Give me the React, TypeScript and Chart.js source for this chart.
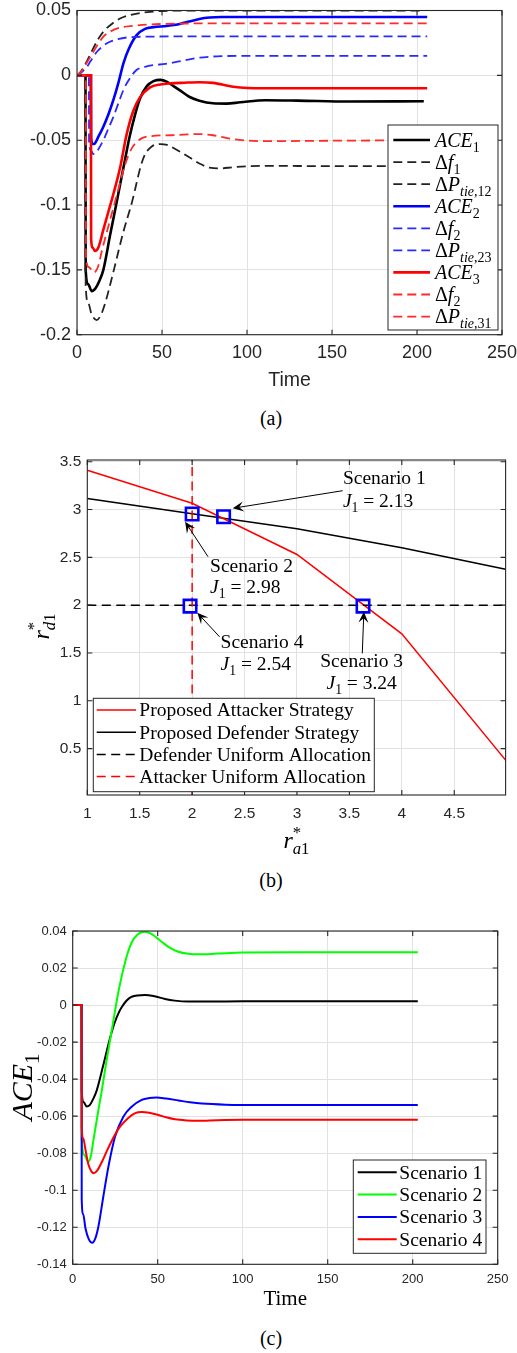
import { useEffect, useRef } from "react";
import { Chart, registerables } from "chart.js";

Chart.register(...registerables);

type Pt = [number, number];

const SERIF = '"Liberation Serif", "Times New Roman", serif';
const SANS = '"Liberation Sans", Arial, Helvetica, sans-serif';
const AXIS_INK = "#262626";
const GRID = "#e2e2e2";
const PAGE_W = 517;

// ---------- (a) ACE and its components for the three areas ----------
const ACE1: Pt[] = [[0, 0], [5, 0], [5.1, -0.15], [6.5, -0.161], [8.7, -0.1665], [11, -0.164], [13, -0.159], [15.5, -0.15], [19.5, -0.123], [23, -0.1], [27.5, -0.07], [31, -0.047], [34, -0.031], [37, -0.018], [41, -0.0085], [45, -0.0045], [49, -0.0035], [53, -0.005], [57, -0.0085], [61, -0.012], [66, -0.0165], [72, -0.0195], [80, -0.0215], [88, -0.0218], [96, -0.0208], [111, -0.0192], [130, -0.0195], [160, -0.0202], [204, -0.02]];
const DF1: Pt[] = [[0, 0], [2, 0.0025], [4, 0.0065], [5.7, 0.0105], [9.6, 0.021], [12.5, 0.028], [15.5, 0.0336], [21.4, 0.0406], [26, 0.0442], [31.2, 0.0465], [37, 0.048], [43, 0.049], [55, 0.0498], [70, 0.05], [203, 0.05]];
const DPTIE12: Pt[] = [[0, 0], [5, 0], [5.1, -0.162], [6.7, -0.176], [8.5, -0.184], [11.6, -0.1887], [14, -0.185], [16.5, -0.176], [19, -0.164], [21.7, -0.15], [27, -0.122], [32.5, -0.097], [37.5, -0.07], [40, -0.061], [44, -0.0548], [49, -0.053], [53, -0.0537], [57, -0.0562], [62, -0.06], [67, -0.064], [72, -0.068], [78, -0.0712], [84, -0.0718], [92, -0.0708], [110, -0.0698], [150, -0.07], [203, -0.07]];
const ACE2: Pt[] = [[0, 0], [8.2, 0], [8.3, -0.048], [9.2, -0.053], [10.5, -0.0525], [12.5, -0.0475], [15.5, -0.0396], [18.5, -0.03], [21.4, -0.019], [24.5, -0.005], [27.3, 0.0093], [30.5, 0.0205], [35.1, 0.031], [40, 0.0358], [45, 0.0372], [52.7, 0.038], [57, 0.0388], [61, 0.0398], [66, 0.0415], [72, 0.0435], [78, 0.0446], [85, 0.045], [100, 0.045], [206, 0.045]];
const DF2: Pt[] = [[0, 0], [7, 0], [7.1, -0.052], [8.3, -0.058], [9.6, -0.0607], [11, -0.06], [13, -0.056], [15.5, -0.05], [18.5, -0.041], [21.4, -0.032], [24.5, -0.021], [27.3, -0.0113], [30, -0.0045], [35, 0.0041], [40, 0.0066], [45, 0.0079], [52, 0.0088], [58, 0.0102], [64, 0.0118], [72, 0.0136], [85, 0.0148], [100, 0.015], [206, 0.015]];
const DPTIE23: Pt[] = [[0, 0], [2, 0.0015], [4, 0.004], [5.7, 0.0062], [8, 0.011], [11.6, 0.018], [15.5, 0.0228], [19.4, 0.0259], [24, 0.0279], [29.2, 0.0292], [40, 0.0298], [60, 0.03], [206, 0.03]];
const ACE3: Pt[] = [[0, 0], [8.2, 0], [8.3, -0.126], [9.3, -0.133], [10.6, -0.1355], [12.5, -0.133], [15.5, -0.119], [18.5, -0.105], [21.4, -0.0915], [25.3, -0.0715], [29.2, -0.0455], [33.1, -0.0275], [37, -0.017], [43, -0.0093], [49, -0.007], [55, -0.0062], [63, -0.0057], [72, -0.0053], [80, -0.0058], [92, -0.0088], [110, -0.01], [206, -0.01]];
const DF3: Pt[] = [[0, 0], [2, 0.0022], [4, 0.0058], [5.7, 0.0095], [10, 0.019], [15.5, 0.0298], [19.4, 0.0336], [25.3, 0.0368], [33, 0.0382], [49, 0.0396], [70, 0.04], [206, 0.04]];
const DPTIE31: Pt[] = [[0, 0], [5.2, 0], [5.3, -0.14], [7, -0.148], [10, -0.152], [12.5, -0.147], [14.5, -0.136], [17.5, -0.121], [20.4, -0.107], [24.5, -0.087], [28, -0.07], [32.2, -0.0563], [38, -0.0486], [44, -0.0468], [55, -0.0462], [65, -0.0456], [72, -0.0453], [80, -0.0462], [92, -0.0492], [110, -0.0508], [140, -0.0505], [206, -0.05]];

const A_X_TICKS = [0, 50, 100, 150, 200, 250];
const A_Y_TICKS = [-0.2, -0.15, -0.1, -0.05, 0, 0.05];

// ---------- (b) attacker / defender allocation ----------
const RA1 = [1, 2, 3, 4, 4.99];
const ATTACKER_RD = [3.41, 3.065, 2.53, 1.7, 0.38];
const DEFENDER_RD = [3.115, 2.955, 2.8, 2.6, 2.375];
const UNIFORM_RD = 2;
const UNIFORM_RA = 2;
const SCEN_NAMES = ["Scenario 1", "Scenario 2", "Scenario 3", "Scenario 4"];
const SCEN_RA = [2.3, 2.0, 3.63, 1.98];
const SCEN_RD = [2.925, 2.953, 1.99, 1.99];
const SCEN_J = ["2.13", "2.98", "3.24", "2.54"];
const B_X_TICKS = [1, 1.5, 2, 2.5, 3, 3.5, 4, 4.5];
const B_Y_TICKS = [0.5, 1, 1.5, 2, 2.5, 3, 3.5];

// ---------- (c) ACE1 under the four scenarios ----------
const SC1: Pt[] = [[0, 0], [5.2, 0], [5.3, -0.046], [6.5, -0.0525], [8.2, -0.0548], [10, -0.054], [12, -0.0508], [14.1, -0.0462], [18, -0.0324], [21.9, -0.018], [24.9, -0.009], [28.8, -0.0012], [34.7, 0.0045], [42.5, 0.0055], [48, 0.0048], [54.3, 0.0033], [60, 0.0024], [68, 0.0019], [80, 0.0019], [100, 0.002], [203, 0.002]];
const SC2: Pt[] = [[0, 0], [5.2, 0], [5.3, -0.072], [6.8, -0.081], [9.2, -0.0846], [10.8, -0.081], [12.1, -0.0735], [15.1, -0.0567], [17, -0.0468], [20, -0.0295], [23.5, -0.0108], [26.9, 0.0072], [31.4, 0.0252], [34.7, 0.0338], [38, 0.038], [42.1, 0.0396], [46, 0.0386], [52.3, 0.0342], [57, 0.031], [62.1, 0.0288], [68, 0.0277], [74, 0.0274], [85, 0.0278], [100, 0.0284], [130, 0.0285], [203, 0.0285]];
const SC3: Pt[] = [[0, 0], [5.2, 0], [5.3, -0.105], [6.2, -0.113], [7.5, -0.1205], [9.5, -0.1265], [11.5, -0.1284], [13.3, -0.126], [15.1, -0.1197], [18, -0.1035], [21, -0.0873], [24.9, -0.0711], [29.8, -0.0603], [34.7, -0.0549], [40.6, -0.0512], [45, -0.0502], [49.4, -0.0499], [55, -0.0505], [62.1, -0.0515], [69, -0.0525], [76, -0.0532], [90, -0.0538], [110, -0.054], [203, -0.054]];
const SC4: Pt[] = [[0, 0], [5.2, 0], [5.3, -0.066], [6.2, -0.072], [7.5, -0.078], [9.2, -0.086], [11, -0.0898], [12.4, -0.0908], [14.5, -0.0893], [17, -0.085], [21, -0.077], [26.8, -0.067], [32.7, -0.061], [36.5, -0.0585], [40.6, -0.0578], [45, -0.0582], [50.4, -0.0594], [55, -0.0606], [60.2, -0.0617], [67, -0.0623], [74, -0.0625], [85, -0.0622], [100, -0.062], [203, -0.062]];
const C_X_TICKS = [0, 50, 100, 150, 200, 250];
const C_Y_TICKS = [-0.14, -0.12, -0.1, -0.08, -0.06, -0.04, -0.02, 0, 0.02, 0.04];

// ---------- text helpers ----------
type Seg = { t: string; it?: boolean; pos?: "sub" | "sup"; stack?: boolean };

function fontOf(s: Seg, size: number) {
  const fs = s.pos ? size * 0.7 : size;
  return `${s.it ? "italic " : ""}${fs}px ${SERIF}`;
}

function drawRich(ctx: CanvasRenderingContext2D, segs: Seg[], x: number, yMid: number, size: number, align: "left" | "center") {
  const widths = segs.map((s) => {
    ctx.font = fontOf(s, size);
    return ctx.measureText(s.t).width;
  });
  const starts: number[] = [];
  let cursor = 0;
  let prevStart = 0;
  segs.forEach((s, i) => {
    const start = s.stack ? prevStart : cursor;
    starts.push(start);
    prevStart = start;
    cursor = Math.max(cursor, start + widths[i]);
  });
  const x0 = align === "center" ? x - cursor / 2 : x;
  const base = yMid + size * 0.33;
  ctx.textAlign = "left";
  ctx.textBaseline = "alphabetic";
  segs.forEach((s, i) => {
    ctx.font = fontOf(s, size);
    const dy = s.pos === "sub" ? size * 0.25 : s.pos === "sup" ? -size * 0.42 : 0;
    ctx.fillText(s.t, x0 + starts[i], base + dy);
  });
}

type Area = { left: number; right: number; top: number; bottom: number };
type AxisSpec = { min: number; max: number; ticks: number[] };

const fmt = (v: number) => String(+Number(v).toFixed(4));

function axesOptions(area: Area, height: number, x: AxisSpec, y: AxisSpec, fontSize: number, xPad: number): any {
  const zeroPad = (s: any) => {
    s.paddingLeft = 0;
    s.paddingRight = 0;
    s.paddingTop = 0;
    s.paddingBottom = 0;
  };
  const tickFont = { family: SANS, size: fontSize };
  return {
    responsive: false,
    animation: false,
    events: [],
    layout: { padding: { left: 0, top: area.top, right: PAGE_W - area.right, bottom: 0 } },
    plugins: { legend: { display: false }, tooltip: { enabled: false }, title: { display: false } },
    scales: {
      x: {
        type: "linear",
        position: "bottom",
        min: x.min,
        max: x.max,
        afterBuildTicks: (s: any) => {
          s.ticks = x.ticks.map((v) => ({ value: v }));
        },
        afterFit: (s: any) => {
          s.height = height - area.bottom;
          zeroPad(s);
        },
        grid: { color: GRID, drawTicks: false, lineWidth: 1 },
        border: { display: false },
        ticks: { color: AXIS_INK, font: tickFont, padding: xPad, maxRotation: 0, minRotation: 0, autoSkip: false, callback: (v: any) => fmt(v) },
      },
      y: {
        type: "linear",
        position: "left",
        min: y.min,
        max: y.max,
        afterBuildTicks: (s: any) => {
          s.ticks = y.ticks.map((v) => ({ value: v }));
        },
        afterFit: (s: any) => {
          s.width = area.left;
          zeroPad(s);
        },
        grid: { color: GRID, drawTicks: false, lineWidth: 1 },
        border: { display: false },
        ticks: { color: AXIS_INK, font: tickFont, padding: 6, autoSkip: false, callback: (v: any) => fmt(v) },
      },
    },
  };
}

// box around the axes with inward tick marks on all four sides
function drawFrame(chart: any, xTicks: number[], yTicks: number[], len: number) {
  const { ctx, chartArea: a, scales } = chart;
  ctx.save();
  ctx.strokeStyle = AXIS_INK;
  ctx.lineWidth = 1.1;
  ctx.beginPath();
  xTicks.forEach((v) => {
    const px = scales.x.getPixelForValue(v);
    ctx.moveTo(px, a.bottom);
    ctx.lineTo(px, a.bottom - len);
    ctx.moveTo(px, a.top);
    ctx.lineTo(px, a.top + len);
  });
  yTicks.forEach((v) => {
    const py = scales.y.getPixelForValue(v);
    ctx.moveTo(a.left, py);
    ctx.lineTo(a.left + len, py);
    ctx.moveTo(a.right, py);
    ctx.lineTo(a.right - len, py);
  });
  ctx.stroke();
  ctx.strokeRect(a.left, a.top, a.right - a.left, a.bottom - a.top);
  ctx.restore();
}

type LegendRow = { color: string; dash: number[]; width: number; label: Seg[] };
type LegendLayout = { x: number; y: number; w: number; h: number; firstRow: number; rowH: number; line0: number; line1: number; text: number; size: number };

function drawLegend(ctx: CanvasRenderingContext2D, rows: LegendRow[], L: LegendLayout) {
  ctx.save();
  ctx.fillStyle = "#ffffff";
  ctx.fillRect(L.x, L.y, L.w, L.h);
  ctx.strokeStyle = AXIS_INK;
  ctx.lineWidth = 1;
  ctx.strokeRect(L.x, L.y, L.w, L.h);
  rows.forEach((r, i) => {
    const y = L.y + L.firstRow + i * L.rowH;
    ctx.setLineDash(r.dash);
    ctx.strokeStyle = r.color;
    ctx.lineWidth = r.width;
    ctx.beginPath();
    ctx.moveTo(L.x + L.line0, y);
    ctx.lineTo(L.x + L.line1, y);
    ctx.stroke();
    ctx.setLineDash([]);
    ctx.fillStyle = "#000000";
    drawRich(ctx, r.label, L.x + L.text, y, L.size, "left");
  });
  ctx.restore();
}

const toXY = (pts: Pt[]) => pts.map(([x, y]) => ({ x, y }));

function curve(pts: Pt[], color: string, width: number, dash: number[], order: number) {
  return {
    data: toXY(pts),
    borderColor: color,
    borderWidth: width,
    borderDash: dash,
    pointRadius: 0,
    fill: false,
    cubicInterpolationMode: "monotone",
    order,
  };
}

const ace = (n: string): Seg[] => [{ t: "ACE", it: true }, { t: n, pos: "sub" }];
const df = (n: string): Seg[] => [{ t: "Δ" }, { t: "f", it: true }, { t: n, pos: "sub" }];
const dptie = (n: string): Seg[] => [{ t: "Δ" }, { t: "P", it: true }, { t: "tie", it: true, pos: "sub" }, { t: "," + n, pos: "sub" }];

// ---------- (a) ----------
function configA(): any {
  const H = 400;
  const area = { left: 77, right: 502, top: 10.5, bottom: 334.7 };
  const DASH = [9, 5];
  const series = [
    { pts: ACE1, color: "#000000", dash: [] as number[], w: 2.6, label: ace("1") },
    { pts: DF1, color: "#222222", dash: DASH, w: 1.8, label: df("1") },
    { pts: DPTIE12, color: "#222222", dash: DASH, w: 1.8, label: dptie("12") },
    { pts: ACE2, color: "#0000ff", dash: [] as number[], w: 2.6, label: ace("2") },
    { pts: DF2, color: "#2a2aff", dash: DASH, w: 1.8, label: df("2") },
    { pts: DPTIE23, color: "#2a2aff", dash: DASH, w: 1.8, label: dptie("23") },
    { pts: ACE3, color: "#ff0000", dash: [] as number[], w: 2.6, label: ace("3") },
    { pts: DF3, color: "#ff2a2a", dash: DASH, w: 1.8, label: df("2") },
    { pts: DPTIE31, color: "#ff2a2a", dash: DASH, w: 1.8, label: dptie("31") },
  ];
  const n = series.length;
  return {
    type: "line",
    data: { datasets: series.map((s, i) => curve(s.pts, s.color, s.w, s.dash, n - i)) },
    options: axesOptions(area, H, { min: 0, max: 250, ticks: A_X_TICKS }, { min: -0.2, max: 0.05, ticks: A_Y_TICKS }, 18, 8),
    plugins: [
      {
        id: "decorA",
        afterDatasetsDraw(chart: any) {
          const { ctx, chartArea: a } = chart;
          drawFrame(chart, A_X_TICKS, A_Y_TICKS, 5);
          const w = 110;
          const h = 205;
          drawLegend(
            ctx,
            series.map((s) => ({ color: s.color, dash: s.dash, width: s.w === 2.6 ? 2.6 : 1.8, label: s.label })),
            { x: a.right - 4 - w, y: a.bottom - 4.7 - h, w, h, firstRow: 15, rowH: 22.07, line0: 5.3, line1: 42, text: 47, size: 20 },
          );
          ctx.save();
          ctx.fillStyle = AXIS_INK;
          ctx.font = `19.5px ${SANS}`;
          ctx.textAlign = "center";
          ctx.textBaseline = "middle";
          ctx.fillText("Time", (a.left + a.right) / 2, a.bottom + 45.5);
          ctx.restore();
        },
      },
    ],
  };
}

// ---------- (b) ----------
const CALLOUTS = [
  { head: [2.387, 3.013], tail: [3.436, 3.197], tx: 3.438, ty: [3.33, 3.092], align: "left" },
  { head: [1.933, 2.873], tail: [2.152, 2.506], tx: 2.171, ty: [2.409, 2.192], align: "left" },
  { head: [3.638, 1.931], tail: [3.623, 1.496], tx: 3.617, ty: [1.418, 1.188], align: "center" },
  { head: [2.049, 1.92], tail: [2.262, 1.669], tx: 2.271, ty: [1.617, 1.391], align: "left" },
];

function drawArrow(ctx: CanvasRenderingContext2D, x0: number, y0: number, x1: number, y1: number) {
  const ang = Math.atan2(y1 - y0, x1 - x0);
  const c = Math.cos(ang);
  const s = Math.sin(ang);
  const P = (u: number, v: number): [number, number] => [x1 + u * c - v * s, y1 + u * s + v * c];
  ctx.beginPath();
  ctx.moveTo(x0, y0);
  const nb = P(-6, 0);
  ctx.lineTo(nb[0], nb[1]);
  ctx.stroke();
  ctx.beginPath();
  const p1 = P(-11, 5);
  const p2 = P(-6.5, 0);
  const p3 = P(-11, -5);
  ctx.moveTo(x1, y1);
  ctx.lineTo(p1[0], p1[1]);
  ctx.lineTo(p2[0], p2[1]);
  ctx.lineTo(p3[0], p3[1]);
  ctx.closePath();
  ctx.fill();
}

function configB(): any {
  const H = 425;
  const area = { left: 87.3, right: 512.2, top: 20, bottom: 355 };
  const YMIN = 0.015;
  const YMAX = 3.518;
  const DASH = [9, 5.5];
  const line = (xs: number[], ys: number[], color: string, dash: number[], order: number) => ({
    data: xs.map((x, i) => ({ x, y: ys[i] })),
    borderColor: color,
    borderWidth: 1.5,
    borderDash: dash,
    pointRadius: 0,
    fill: false,
    tension: 0,
    order,
  });
  const datasets = [
    line(RA1, ATTACKER_RD, "#ff0000", [], 4),
    line(RA1, DEFENDER_RD, "#000000", [], 5),
    line([1, 4.99], [UNIFORM_RD, UNIFORM_RD], "#000000", DASH, 3),
    line([UNIFORM_RA, UNIFORM_RA], [YMIN, YMAX], "#ff0000", DASH, 2),
    {
      data: SCEN_RA.map((x, i) => ({ x, y: SCEN_RD[i] })),
      showLine: false,
      pointStyle: "rect",
      pointRadius: 8.8,
      pointBorderColor: "#0000ff",
      pointBorderWidth: 2.6,
      pointBackgroundColor: "rgba(0,0,0,0)",
      order: 0,
    },
  ];
  const rows: LegendRow[] = [
    { color: "#ff0000", dash: [], width: 1.5, label: [{ t: "Proposed Attacker Strategy" }] },
    { color: "#000000", dash: [], width: 1.5, label: [{ t: "Proposed Defender Strategy" }] },
    { color: "#000000", dash: DASH, width: 1.5, label: [{ t: "Defender Uniform Allocation" }] },
    { color: "#ff0000", dash: DASH, width: 1.5, label: [{ t: "Attacker Uniform Allocation" }] },
  ];
  return {
    type: "line",
    data: { datasets },
    options: axesOptions(area, H, { min: 1, max: 4.99, ticks: B_X_TICKS }, { min: YMIN, max: YMAX, ticks: B_Y_TICKS }, 15.5, 9),
    plugins: [
      {
        id: "decorB",
        afterDatasetsDraw(chart: any) {
          const { ctx, chartArea: a, scales } = chart;
          drawFrame(chart, B_X_TICKS, B_Y_TICKS, 5);
          const X = (v: number) => scales.x.getPixelForValue(v);
          const Y = (v: number) => scales.y.getPixelForValue(v);
          ctx.save();
          ctx.strokeStyle = "#000000";
          ctx.fillStyle = "#000000";
          ctx.lineWidth = 1;
          CALLOUTS.forEach((c, i) => {
            drawArrow(ctx, X(c.tail[0]), Y(c.tail[1]), X(c.head[0]), Y(c.head[1]));
            const al = c.align as "left" | "center";
            drawRich(ctx, [{ t: SCEN_NAMES[i] }], X(c.tx), Y(c.ty[0]), 19.5, al);
            drawRich(ctx, [{ t: "J", it: true }, { t: "1", pos: "sub" }, { t: " = " + SCEN_J[i] }], X(c.tx), Y(c.ty[1]), 19.5, al);
          });
          ctx.restore();
          drawLegend(ctx, rows, { x: a.left + 6, y: a.bottom - 3.3 - 93.4, w: 281, h: 93.4, firstRow: 11.7, rowH: 22.2, line0: 3.4, line1: 42.7, text: 46, size: 19.5 });
          ctx.save();
          ctx.fillStyle = "#000000";
          drawRich(ctx, [{ t: "r", it: true }, { t: "*", pos: "sup" }, { t: "a", it: true, pos: "sub", stack: true }, { t: "1", pos: "sub" }], (a.left + a.right) / 2, a.bottom + 45, 24, "center");
          ctx.translate(41, (a.top + a.bottom) / 2 - 1);
          ctx.rotate(-Math.PI / 2);
          drawRich(ctx, [{ t: "r", it: true }, { t: "*", pos: "sup" }, { t: "d", it: true, pos: "sub", stack: true }, { t: "1", pos: "sub" }], 0, 0, 24, "center");
          ctx.restore();
        },
      },
    ],
  };
}

// ---------- (c) ----------
function configC(): any {
  const H = 400;
  const area = { left: 72.7, right: 497.7, top: 16, bottom: 349.3 };
  const series = [
    { pts: SC1, color: "#000000", name: "Scenario 1" },
    { pts: SC2, color: "#00ff00", name: "Scenario 2" },
    { pts: SC3, color: "#0000ff", name: "Scenario 3" },
    { pts: SC4, color: "#ff0000", name: "Scenario 4" },
  ];
  const n = series.length;
  return {
    type: "line",
    data: { datasets: series.map((s, i) => curve(s.pts, s.color, 2, [], n - i)) },
    options: axesOptions(area, H, { min: 0, max: 250, ticks: C_X_TICKS }, { min: -0.14, max: 0.04, ticks: C_Y_TICKS }, 13, 7),
    plugins: [
      {
        id: "decorC",
        afterDatasetsDraw(chart: any) {
          const { ctx, chartArea: a } = chart;
          drawFrame(chart, C_X_TICKS, C_Y_TICKS, 5);
          const w = 132.7;
          const h = 93.3;
          drawLegend(
            ctx,
            series.map((s) => ({ color: s.color, dash: [], width: 2, label: [{ t: s.name }] })),
            { x: a.right - 11.7 - w, y: a.bottom - 11 - h, w, h, firstRow: 12.3, rowH: 22.3, line0: 4.4, line1: 43.4, text: 46, size: 19.5 },
          );
          ctx.save();
          ctx.fillStyle = "#000000";
          drawRich(ctx, [{ t: "Time" }], (a.left + a.right) / 2, a.bottom + 34, 21, "center");
          ctx.translate(22, 172);
          ctx.rotate(-Math.PI / 2);
          drawRich(ctx, [{ t: "ACE", it: true }, { t: "1", pos: "sub" }], 0, 0, 30, "center");
          ctx.restore();
        },
      },
    ],
  };
}

const captionStyle = (cy: number): any => ({
  position: "absolute",
  left: 221,
  width: 100,
  top: cy - 12,
  lineHeight: "24px",
  fontFamily: SERIF,
  fontSize: 20,
  textAlign: "center",
  color: "#000",
});

export default function App() {
  const refA = useRef<HTMLCanvasElement>(null);
  const refB = useRef<HTMLCanvasElement>(null);
  const refC = useRef<HTMLCanvasElement>(null);

  useEffect(() => {
    const charts = [
      new Chart(refA.current as HTMLCanvasElement, configA()),
      new Chart(refB.current as HTMLCanvasElement, configB()),
      new Chart(refC.current as HTMLCanvasElement, configC()),
    ];
    return () => charts.forEach((c) => c.destroy());
  }, []);

  return (
    <div style={{ position: "absolute", left: 0, top: 0, width: PAGE_W, height: 1353, background: "#ffffff", overflow: "hidden" }}>
      <canvas ref={refA} width={PAGE_W} height={400} style={{ position: "absolute", left: 0, top: 0, width: PAGE_W, height: 400 }} />
      <div style={captionStyle(418)}>(a)</div>
      <canvas ref={refB} width={PAGE_W} height={425} style={{ position: "absolute", left: 0, top: 440, width: PAGE_W, height: 425 }} />
      <div style={captionStyle(880)}>(b)</div>
      <canvas ref={refC} width={PAGE_W} height={400} style={{ position: "absolute", left: 0, top: 915, width: PAGE_W, height: 400 }} />
      <div style={captionStyle(1338)}>(c)</div>
    </div>
  );
}
